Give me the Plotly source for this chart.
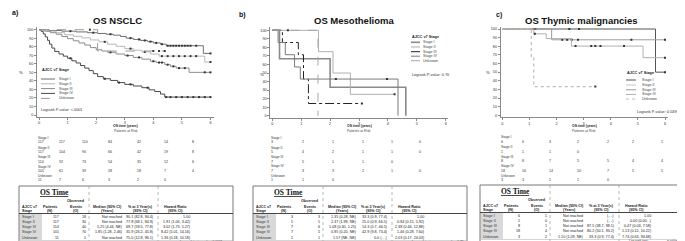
import plotly.graph_objects as go

W, H = 685, 241
SANS = "Liberation Sans, Arial, sans-serif"
SERIF = "Liberation Serif, Times New Roman, serif"

# ---------------- DATA ----------------
STAGES = ["Stage I", "Stage II", "Stage III", "Stage IV", "Unknown"]
X_TICKS = [0, 1, 2, 3, 4, 5, 6]
Y_TICKS = [0, 10, 20, 30, 40, 50, 60, 70, 80, 90, 100]

# Panel a: NSCLC  (T = event times, S = survival %, C = censor times)
A_I_T = [0, 0.35, 0.8, 1.3, 1.7, 2.05, 2.35, 2.6, 2.85, 3.05, 3.3, 3.55, 3.8, 4.0, 4.25, 4.45, 5.75]
A_I_S = [100, 99.1, 98.3, 97.4, 96.5, 95.6, 94.7, 93.6, 92.1, 90.1, 88.6, 87.4, 86.0, 84.5, 83.0, 81.2, 72.2]
A_I_C = [1.1, 1.9, 2.5, 3.2, 3.5, 3.7, 3.9, 4.1, 4.3, 4.5, 4.6, 4.7, 4.8, 4.9, 5.0, 5.1, 5.2, 5.3, 5.5, 6.0]
A_II_T = [0, 0.3, 0.6, 0.9, 1.2, 1.5, 1.8, 2.1, 2.4, 2.7, 3.0, 3.3, 3.6, 3.9, 4.2, 5.8]
A_II_S = [100, 98.3, 96.5, 94.0, 92.2, 90.4, 88.0, 85.8, 83.0, 80.5, 77.8, 76.0, 74.0, 71.5, 69.0, 62.1]
A_II_C = [2.3, 3.2, 3.7, 4.3, 4.5, 4.7, 4.9, 5.1, 5.3, 5.5, 6.0]
A_III_T = [0, 0.2, 0.4, 0.6, 0.8, 1.0, 1.2, 1.4, 1.6, 1.8, 2.0, 2.2, 2.4, 2.7, 3.0, 3.3, 3.6, 3.9, 4.1, 4.4, 4.6, 4.8, 5.25]
A_III_S = [100, 98.2, 96.5, 94.7, 92.0, 89.5, 87.0, 84.5, 82.0, 79.0, 76.5, 75.0, 73.5, 71.5, 69.7, 67.5, 65.5, 63.0, 61.5, 59.0, 57.0, 55.0, 50.0]
A_III_C = [2.5, 3.1, 3.5, 4.0, 4.2, 4.3, 4.5, 4.7, 4.9, 5.1, 5.8, 6.0]
A_IV_T = [0, 0.08, 0.15, 0.22, 0.3, 0.37, 0.45, 0.55, 0.7, 0.85, 1.0, 1.15, 1.3, 1.45, 1.6, 1.75, 1.9, 2.05, 2.25, 2.5, 2.75, 3.0, 3.3, 3.6, 3.85, 4.05, 4.25, 4.4]
A_IV_S = [100, 98.0, 95.0, 91.5, 87.5, 83.0, 78.5, 74.5, 71.5, 69.0, 66.5, 63.5, 61.0, 58.0, 55.0, 52.0, 48.5, 45.0, 42.5, 40.5, 38.0, 35.9, 34.0, 32.0, 29.5, 27.5, 24.5, 21.0]
A_IV_C = [1.1, 2.3, 2.8, 3.2, 3.8, 4.45, 4.6, 4.8, 5.0, 5.2, 5.4, 5.6, 5.8, 6.0]
A_U_T = [0, 2.05]
A_U_S = [100, 75.0]
A_U_C = [1.78, 4.0, 4.2, 4.4]

# Panel b: Mesothelioma
B_I_T = [0, 0.25, 2.0, 4.62]
B_I_S = [100, 66.7, 33.3, 0]
B_I_C = []
B_II_T = [0, 1.6, 2.1, 2.7]
B_II_S = [100, 75.0, 50.0, 25.0]
B_II_C = [0.54, 4.23]
B_III_T = [0, 0.35, 0.9, 1.08, 1.25]
B_III_S = [100, 85.7, 71.4, 42.9, 14.3]
B_III_C = [3.1]
B_IV_T = [0, 0.2, 0.45, 0.77, 0.97, 4.35]
B_IV_S = [100, 85.7, 71.4, 57.1, 42.9, 0]
B_IV_C = [2.2, 3.97]
B_U_T = [0, 1.58]
B_U_S = [100, 0]
B_U_C = []

# Panel c: Thymic malignancies
C_I_T = [0, 5.65]
C_I_S = [100, 50.0]
C_I_C = [0.27, 0.47, 1.17, 1.22, 2.47, 2.83, 6.0]
C_II_T = [0]
C_II_S = [100]
C_II_C = [1.15]
C_III_T = [0, 1.82]
C_III_S = [100, 87.5]
C_III_C = [2.21, 2.39, 2.56, 2.79, 4.76, 6.0]
C_IV_T = [0, 1.16, 1.62, 2.55, 5.19]
C_IV_S = [100, 94.4, 88.9, 80.2, 66.8]
C_IV_C = [1.2, 2.7, 3.28, 3.43, 3.62, 4.49, 6.0]
C_U_T = [0, 1.07, 1.16]
C_U_S = [100, 66.7, 33.3]
C_U_C = [3.43]

# Patients at risk
A_RISK = [[117, 117, 110, 84, 42, 14, 8],
          [117, 104, 90, 66, 42, 19, 8],
          [114, 92, 73, 54, 35, 12, 6],
          [101, 61, 39, 28, 18, 7, 4],
          [11, 7, 6, 3, 2, 0]]
B_RISK = [[3, 2, 1, 1, 1, 0],
          [5, 4, 2, 1, 1, 0],
          [7, 5, 1, 1, 0],
          [7, 3, 3, 2, 1, 0],
          [1, 1, 0]]
C_RISK = [[6, 6, 3, 2, 2, 2, 1],
          [1, 1, 1, 0],
          [8, 8, 7, 5, 5, 4, 4],
          [18, 16, 14, 10, 7, 5, 5],
          [3, 3, 1, 1, 0]]

# OS Time tables
A_N = [117, 117, 114, 101, 11]
A_O = [18, 30, 40, 70, 1]
A_MED = ["Not reached", "Not reached", "5.25 (4.44, NE)", "1.85 (1.28, 2.46)", "Not reached"]
A_PCT = ["90.1 (82.8, 94.4)", "77.8 (68.1, 84.9)", "69.7 (59.5, 77.8)", "35.9 (26.2, 45.8)", "75.0 (12.8, 96.1)"]
A_HR = ["1.00", "1.91 (1.06, 3.42)", "3.02 (1.73, 5.27)", "8.42 (5.01, 14.16)", "1.36 (0.18, 10.18)"]

B_N = [3, 5, 7, 7, 1]
B_O = [3, 5, 6, 5, 1]
B_MED = ["1.35 (0.28, NE)", "2.37 (1.99, NE)", "1.08 (0.30, 1.25)", "0.95 (0.20, NE)", "1.57 (NE, NE)"]
B_PCT = ["33.3 (0.9, 77.4)", "25.0 (0.9, 66.5)", "14.3 (0.7, 46.5)", "42.9 (9.8, 73.4)", "0.0 (., .)"]
B_HR = ["1.00", "0.94 (0.15, 5.92)", "2.38 (0.44, 12.88)", "1.46 (0.28, 7.60)", "2.03 (0.17, 24.03)"]

C_N = [6, 1, 8, 18, 3]
C_O = [1, 0, 1, 4, 2]
C_MED = ["Not reached", "Not reached", "Not reached", "Not reached", "1.10 (1.09, NE)"]
C_PCT = ["(., .)", "(., .)", "87.5 (38.7, 98.1)", "80.2 (50.1, 93.2)", "33.3 (0.9, 77.4)"]
C_HR = ["1.00", "0.00 (0.00, .)", "0.47 (0.03, 7.58)", "1.13 (0.12, 10.22)", "7.74 (0.63, 94.68)"]

# ---------------- HELPERS ----------------
def fx(x):
    return x / W

def fy(y):
    return 1 - y / H

annotations = []
shapes = []

def text(x, y, s, size=3.8, anchor="left", bold=False, color="#222", font=SANS):
    if bold:
        s = "<b>" + s + "</b>"
    annotations.append(dict(x=fx(x), y=fy(y), xref="paper", yref="paper", text=s,
                            showarrow=False, xanchor=anchor, yanchor="middle",
                            font=dict(size=size, color=color, family=font), borderpad=0))

def pline(x0, y0, x1, y1, color="#888", width=0.8, dash="solid"):
    shapes.append(dict(type="line", xref="paper", yref="paper", x0=fx(x0), y0=fy(y0),
                       x1=fx(x1), y1=fy(y1), line=dict(color=color, width=width, dash=dash)))

def prect(x0, y0, x1, y1, fill=None, color="#666", width=0.8):
    d = dict(type="rect", xref="paper", yref="paper", x0=fx(x0), y0=fy(y0), x1=fx(x1), y1=fy(y1),
             line=dict(color=color, width=width))
    if fill:
        d["fillcolor"] = fill
        d["line"] = dict(width=0)
    shapes.append(d)

def surv_at(T, S, t):
    v = S[0]
    for ti, si in zip(T, S):
        if ti <= t:
            v = si
    return v

fig = go.Figure()
layout_axes = {}

def add_axes(idx, dom_x, p0, p6, dom_y, py100, py0):
    s = (p6 - p0) / 6.0
    xr = [(dom_x[0] - p0) / s, (dom_x[1] - p0) / s]
    ys = (py0 - py100) / 100.0
    yr = [-(dom_y[1] - py0) / ys, 100 + (py100 - dom_y[0]) / ys]
    sfx = "" if idx == 1 else str(idx)
    common = dict(showline=True, linecolor="#8a8a8a", linewidth=0.8, ticks="outside", ticklen=2,
                  tickwidth=0.6, tickcolor="#8a8a8a", showgrid=False, zeroline=False,
                  tickfont=dict(size=3.8, family=SANS, color="#333"), fixedrange=True)
    layout_axes["xaxis" + sfx] = dict(domain=[fx(dom_x[0]), fx(dom_x[1])], range=xr,
                                      tickvals=X_TICKS, anchor="y" + sfx, **common)
    layout_axes["yaxis" + sfx] = dict(domain=[fy(dom_y[1]), fy(dom_y[0])], range=yr,
                                      tickvals=Y_TICKS, anchor="x" + sfx, **common)
    return "x" + sfx, "y" + sfx

def add_curves(xa, ya, curves, colors, dashes, widths):
    for (T, S, C), col, dash, wd in zip(curves, colors, dashes, widths):
        tend = max(C) if C and max(C) > T[-1] else T[-1]
        xs = list(T) + [tend]
        yv = list(S) + [S[-1]]
        fig.add_trace(go.Scatter(x=xs, y=yv, mode="lines", line_shape="hv",
                                 line=dict(color=col, width=wd, dash=dash),
                                 xaxis=xa, yaxis=ya, hoverinfo="skip"))
        if C:
            fig.add_trace(go.Scatter(x=C, y=[surv_at(T, S, c) for c in C], mode="markers",
                                     marker=dict(symbol="square", size=2, color="#333"),
                                     xaxis=xa, yaxis=ya, hoverinfo="skip"))

def legend(x_line0, x_line1, x_lab, y_title, ys, colors, dashes, widths, pval, pval_xy):
    text(x_line0, y_title, "AJCC v7 Stage", size=3.8, bold=True)
    for lab, yy, col, dash, wd in zip(STAGES, ys, colors, dashes, widths):
        pline(x_line0, yy, x_line1, yy, color=col, width=wd, dash=dash)
        text(x_lab, yy, lab, size=3.6, color="#444")
    text(pval_xy[0], pval_xy[1], pval, size=3.8, color="#333")

def risk(xcols, label_x, rows, label_ys):
    for r, ly, lab in zip(rows, label_ys, STAGES):
        text(label_x, ly, lab, size=3.3, color="#333")
        for v, xc in zip(r, xcols):
            text(xc, ly + 4.3, str(v), size=3.6, color="#333")

def table(x0, y0, N, O, MED, PCT, HR, footers):
    w, h = 214, 60.5
    prect(x0 + 0.5, y0 + 28, x0 + 23, y0 + 54, fill="#d9d9d9")
    prect(x0, y0, x0 + w, y0 + h, color="#6a6a6a", width=0.9)
    pline(x0 + 70, y0, x0 + 70, y0 + h, color="#999", width=0.7, dash="dot")
    pline(x0 + 139, y0, x0 + 139, y0 + h, color="#999", width=0.7, dash="dot")
    pline(x0, y0 + 27.5, x0 + w, y0 + 27.5, color="#444", width=1.0)
    pline(x0 + 1, y0 + 54.5, x0 + w, y0 + 54.5, color="#aaa", width=0.5)
    text(x0 + 20, y0 + 6.5, "<u>OS Time</u>", size=7.5, bold=True, font=SERIF, color="#111")
    text(x0 + 57, y0 + 14.5, "Observed", size=3.7, anchor="center", bold=True)
    hy1, hy2 = y0 + 20.5, y0 + 25
    text(x0 + 2, hy1, "AJCC v7", size=3.7, bold=True)
    text(x0 + 2, hy2, "Stage", size=3.7, bold=True)
    for cx, a, b in [(31, "Patients", "(N)"), (57, "Events", "(O)"), (89, "Median (95% CI)", "(Years)"),
                     (121, "% at 3 Year(s)", "(95% CI)"), (156, "Hazard Ratio", "(95% CI)")]:
        text(x0 + cx, hy1, a, size=3.7, anchor="center", bold=True)
        text(x0 + cx, hy2, b, size=3.7, anchor="center", bold=True)
    for i, lab in enumerate(STAGES):
        yy = y0 + 30.8 + i * 5.2
        text(x0 + 2, yy, lab, size=3.7, color="#333")
        text(x0 + 41, yy, str(N[i]), size=3.7, anchor="right")
        text(x0 + 68, yy, str(O[i]), size=3.7, anchor="right")
        text(x0 + 104, yy, MED[i], size=3.7, anchor="right")
        text(x0 + 135, yy, PCT[i], size=3.7, anchor="right")
        text(x0 + 172, yy, HR[i], size=3.7, anchor="right")
    for s, fxp, anc in footers:
        text(x0 + fxp, y0 + 56.2, s, size=3.2, anchor=anc, color="#333")

# ---------------- PANEL A ----------------
xa, ya = add_axes(1, [29, 206], 31, 202.5, [19, 109], 21.7, 107)
A_COL = ["#6e6e6e", "#b8b8b8", "#8c8c8c", "#4a4a4a", "#9a9a9a"]
A_DASH = ["solid", "solid", "solid", "solid", "dash"]
A_W = [1, 1, 1, 1, 1]
add_curves(xa, ya, [(A_I_T, A_I_S, A_I_C), (A_II_T, A_II_S, A_II_C), (A_III_T, A_III_S, A_III_C),
                    (A_IV_T, A_IV_S, A_IV_C), (A_U_T, A_U_S, A_U_C)], A_COL, A_DASH, A_W)
legend(33, 47, 50, 62, [71, 75.8, 80.6, 85.4, 90.4], A_COL, A_DASH, A_W, "Logrank P-value: <.0001", (32, 102))
text(3, 4.5, "a)", size=7, bold=True, color="#111")
text(109.5, 12, "OS NSCLC", size=9.5, anchor="center", bold=True, color="#111")
text(10, 65, "%", size=4.2)
text(117.5, 117.8, "OS time (years)", size=3.4, anchor="center", bold=True)
text(117.5, 123.3, "Patients at Risk", size=3.4, anchor="center", color="#444")
risk([29, 50, 73, 99, 128, 155, 183], 29, A_RISK, [129.7, 139.8, 149.3, 158.5, 167.8])
table(11, 178, A_N, A_O, A_MED, A_PCT, A_HR, [("Log rank test: p-value<0.0001", 204, "right")])

# ---------------- PANEL B ----------------
xb, yb = add_axes(2, [262.3, 440], 264.3, 437.7, [19, 110], 22.3, 107.7)
B_COL = ["#8a8a8a", "#b0b0b0", "#222222", "#7a7a7a", "#a8a8a8"]
B_DASH = ["solid", "solid", "dashdot", "solid", "dash"]
B_W = [1.6, 1, 1, 1, 1]
add_curves(xb, yb, [(B_I_T, B_I_S, B_I_C), (B_II_T, B_II_S, B_II_C), (B_III_T, B_III_S, B_III_C),
                    (B_IV_T, B_IV_S, B_IV_C), (B_U_T, B_U_S, B_U_C)], B_COL, B_DASH, B_W)
legend(403, 412, 414, 29, [34.3, 39, 43.7, 48.2, 52.7], B_COL, B_DASH, B_W, "Logrank P-value: 0.70", (403, 67))
text(230, 7, "b)", size=7, bold=True, color="#111")
text(346, 12, "OS Mesothelioma", size=9.5, anchor="center", bold=True, color="#111")
text(251, 66, "%", size=4.2)
text(351, 117.8, "OS time (years)", size=3.4, anchor="center", bold=True)
text(351, 123.3, "Patients at Risk", size=3.4, anchor="center", color="#444")
risk([262.3, 293.3, 323.3, 352.7, 381.7, 410], 262.3, B_RISK, [129.5, 139.5, 149.2, 158.4, 167.7])
table(245, 178, B_N, B_O, B_MED, B_PCT, B_HR, [("Log rank test:", 158, "left"), ("p-value=0.70", 212, "right")])

# ---------------- PANEL C ----------------
xc, yc = add_axes(3, [492.7, 660], 494.3, 657, [19, 109.3], 21, 107.3)
C_COL = ["#555555", "#c4c4c4", "#9c9c9c", "#b0b0b0", "#bdbdbd"]
C_DASH = ["solid", "solid", "solid", "solid", "dot"]
C_W = [1, 1, 1, 1, 1.2]
add_curves(xc, yc, [(C_I_T, C_I_S, C_I_C), (C_II_T, C_II_S, C_II_C), (C_III_T, C_III_S, C_III_C),
                    (C_IV_T, C_IV_S, C_IV_C), (C_U_T, C_U_S, C_U_C)], C_COL, C_DASH, C_W)
legend(618, 628, 633, 65, [72, 77, 81.8, 86.4, 91], C_COL, C_DASH, C_W, "Logrank P-value: 0.0498", (628, 104))
text(487, 7, "c)", size=7, bold=True, color="#111")
text(573, 12, "OS Thymic malignancies", size=9.5, anchor="center", bold=True, color="#111")
text(477, 65, "%", size=4.2)
text(576, 117.8, "OS time (years)", size=3.4, anchor="center", bold=True)
text(576, 123.3, "Patients at Risk", size=3.4, anchor="center", color="#444")
risk([492.3, 513.3, 540, 568.3, 597.7, 623.3, 651.7], 492.3, C_RISK, [129.3, 139.3, 149.0, 158.3, 167.6])
table(472, 177, C_N, C_O, C_MED, C_PCT, C_HR, [("Log rank test:", 148, "left"), ("p-value=0.0498", 210, "right")])

fig.update_layout(width=W, height=H, margin=dict(l=0, r=0, t=0, b=0), showlegend=False,
                  paper_bgcolor="white", plot_bgcolor="white",
                  annotations=annotations, shapes=shapes, **layout_axes)
fig.write_html("out.html")
